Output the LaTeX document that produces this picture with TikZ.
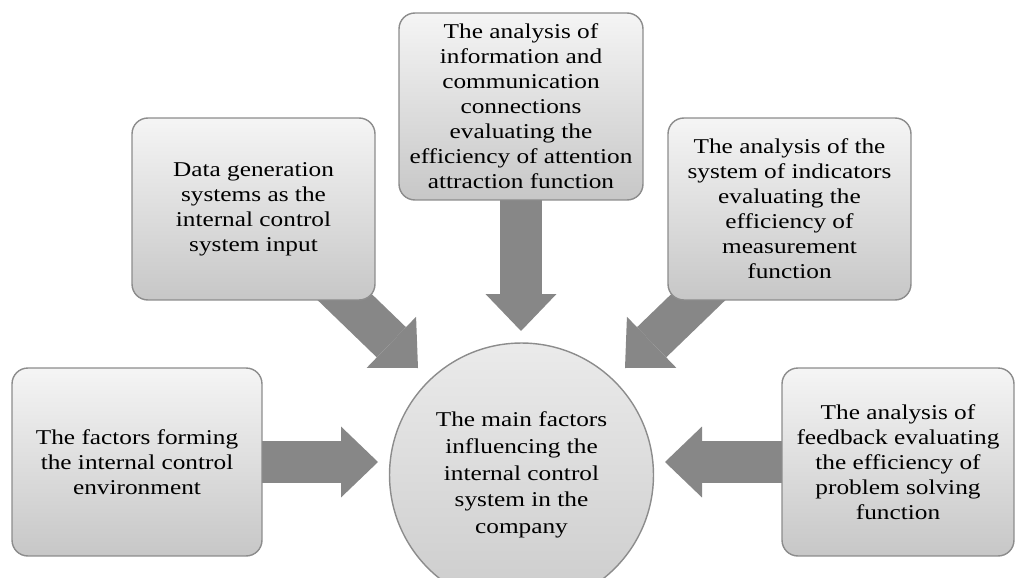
\documentclass[tikz,border=0pt]{standalone}
\usepackage{fontspec}
\setmainfont[FakeStretch=1.2]{Liberation Serif}
\usetikzlibrary{arrows.meta,backgrounds}

\tikzset{
  box/.style={draw=black!45, line width=0.8pt, rounded corners=9pt,
    top color=black!4, bottom color=black!22, align=center,
    font=\fontsize{12}{14.2}\selectfont, inner sep=2pt},
  hub/.style={circle, draw=black!45, line width=0.8pt,
    top color=black!8, bottom color=black!20, align=center,
    font=\fontsize{12}{15.2}\selectfont, minimum size=5.28cm},
  bigarrow/.style={line width=0.84cm, draw=black!47,
    -{Triangle[length=0.74cm, width=1.42cm, line width=0pt]}}
}

\begin{document}
\begin{tikzpicture}[x=0.02cm, y=-0.02cm]
  \clip (0,0) rectangle (1018,578);
  \node[box, minimum width=5cm, minimum height=3.76cm] (fact) at (137,462)
    {The factors forming\\the internal control\\environment};
  \node[box, minimum width=4.86cm, minimum height=3.64cm] (data) at (253.5,209)
    {Data generation\\systems as the\\internal control\\system input};
  \node[box, minimum width=4.88cm, minimum height=3.74cm] (info) at (521,106.5)
    {The analysis of\\information and\\communication\\connections\\evaluating the\\efficiency of attention\\attraction function};
  \node[box, minimum width=4.86cm, minimum height=3.64cm] (indic) at (789.5,209)
    {The analysis of the\\system of indicators\\evaluating the\\efficiency of\\measurement\\function};
  \node[box, minimum width=4.64cm, minimum height=3.76cm] (feed) at (898,462)
    {The analysis of\\feedback evaluating\\the efficiency of\\problem solving\\function};
  \node[hub] (main) at (521.5,475)
    {The main factors\\influencing the\\internal control\\system in the\\company};

  \coordinate (tipL) at (378,462);
  \coordinate (tipR) at (665,462);
  \coordinate (tipT) at (521,331);
  \coordinate (tipDL) at (418,368);
  \coordinate (tipDR) at (625,368);

  \begin{scope}[on background layer]
    \draw[bigarrow] (fact.center) -- (tipL);
    \draw[bigarrow] (feed.center) -- (tipR);
    \draw[bigarrow] (info.center) -- (tipT);
    \draw[bigarrow] (data.center) -- (tipDL);
    \draw[bigarrow] (indic.center) -- (tipDR);
  \end{scope}
\end{tikzpicture}
\end{document}
